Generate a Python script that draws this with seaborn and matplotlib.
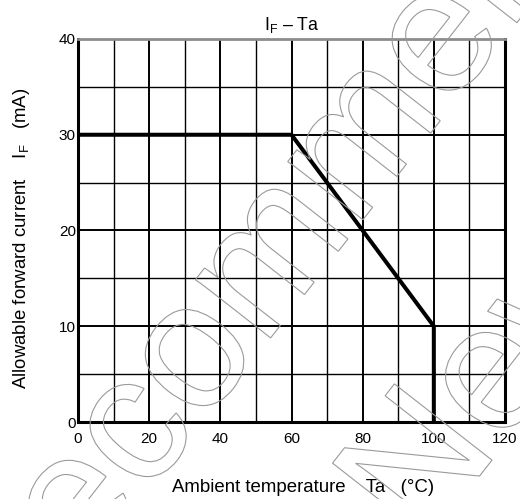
import numpy as np
import pandas as pd
import matplotlib
matplotlib.use("Agg")
import matplotlib.pyplot as plt
import matplotlib.transforms as mtransforms
from matplotlib.textpath import TextPath
from matplotlib.patches import PathPatch
from matplotlib.font_manager import FontProperties
import seaborn as sns

# ---- data ----
temperature = [0, 60, 100, 100]
forward_current = [30, 30, 10, 0]
x_ticks = [0, 20, 40, 60, 80, 100, 120]
y_ticks = [0, 10, 20, 30, 40]
x_minor = list(range(0, 121, 10))
y_minor = list(range(0, 41, 5))
title = r"I$_\mathrm{F}$ – Ta"
xlabel = "Ambient temperature    Ta   (°C)"
ylabel = r"Allowable forward current    I$_\mathrm{F}$   (mA)"
watermark1 = "Not Recommended"
watermark2 = "New Design"

sns.set_theme(style="white")
plt.rcParams['font.family'] = ['Liberation Sans', 'DejaVu Sans']
plt.rcParams['mathtext.fontset'] = 'custom'
plt.rcParams['mathtext.rm'] = 'Liberation Sans'
plt.rcParams['mathtext.it'] = 'Liberation Sans'

W, H = 520, 499
fig = plt.figure(figsize=(W / 100, H / 100), dpi=100)
L, R, T, B = 78, 505, 39, 422
ax = fig.add_axes([L / W, 1 - B / H, (R - L) / W, (B - T) / H])

df = pd.DataFrame({"Ta": temperature, "IF": forward_current})
sns.lineplot(data=df, x="Ta", y="IF", estimator=None, sort=False,
             color="black", linewidth=2.9, ax=ax, zorder=5)

ax.set_xlim(0, 120)
ax.set_ylim(0, 40)
ax.set_xticks(x_ticks)
ax.set_yticks(y_ticks)
ax.set_xticks(x_minor, minor=True)
ax.set_yticks(y_minor, minor=True)
ax.grid(which="major", color="black", linewidth=1.4)
ax.grid(which="minor", color="black", linewidth=1.0)
ax.set_axisbelow(True)
ax.tick_params(axis="both", which="both", length=0, labelsize=11, colors="black")
ax.tick_params(axis="x", pad=7)
ax.tick_params(axis="y", pad=1.5)

for s in ["left", "bottom", "right"]:
    ax.spines[s].set_color("black")
    ax.spines[s].set_linewidth(2.2)
ax.spines["top"].set_color("#8c8c8c")
ax.spines["top"].set_linewidth(2.0)

ax.set_xlabel(xlabel, fontsize=13.4, color="black")
ax.set_ylabel(ylabel, fontsize=13.4, color="black")
ax.xaxis.set_label_coords((303 - L) / (R - L), (B - 488) / (B - T))
ax.xaxis.label.set_va("center")
ax.yaxis.set_label_coords((22 - L) / (R - L), (B - 238) / (B - T))
ax.yaxis.label.set_va("center")

fig.text(292 / W, 1 - 30 / H, title, ha="center", va="baseline", fontsize=12.8, color="black")

# ---- outlined watermark ----
fp = FontProperties(family="Liberation Sans")
E = 180
ang = 52
for txt, (sx, sy) in [(watermark1, (-199, -440)), (watermark2, (421, -52))]:
    tp = TextPath((0, 0), txt, size=E, prop=fp)
    tr = mtransforms.Affine2D().rotate_deg(ang).translate(sx, sy)
    patch = PathPatch(tp, transform=tr, facecolor="none", edgecolor="#9a9a9a",
                      linewidth=0.8, zorder=10)
    fig.add_artist(patch)

fig.savefig("out.png", dpi=100)
